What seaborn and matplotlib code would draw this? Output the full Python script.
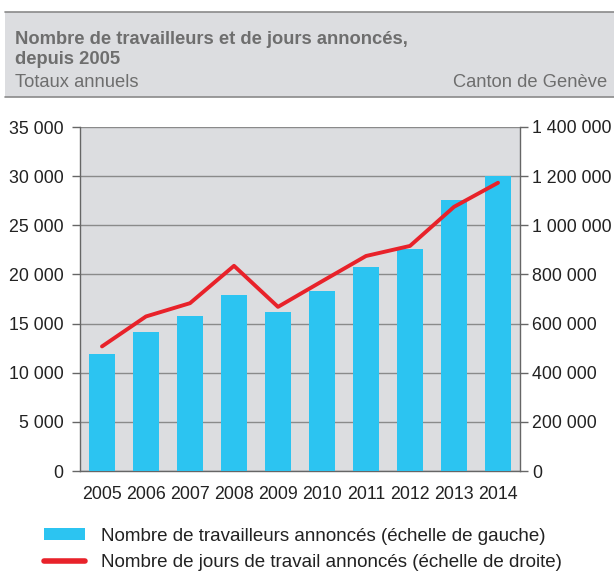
import numpy as np
import pandas as pd
import seaborn as sns
import matplotlib.pyplot as plt
from matplotlib.patches import Patch, Rectangle
from matplotlib.lines import Line2D
from matplotlib.ticker import FuncFormatter

annees = ["2005", "2006", "2007", "2008", "2009", "2010", "2011", "2012", "2013", "2014"]
travailleurs = [11950, 14130, 15760, 17920, 16130, 18330, 20730, 22560, 27530, 30000]
jours = [507000, 629000, 683000, 835000, 668000, 772000, 875000, 916000, 1075000, 1173000]

titre1 = "Nombre de travailleurs et de jours annoncés,"
titre2 = "depuis 2005"
sous_titre = "Totaux annuels"
lieu = "Canton de Genève"
lbl_bar = "Nombre de travailleurs annoncés (échelle de gauche)"
lbl_line = "Nombre de jours de travail annoncés (échelle de droite)"

bleu = "#2cc4f1"
rouge = "#e8222a"
gris = "#dcdde0"
gris_ligne = "#8a8a8a"

sns.set_style("white")
plt.rcParams["font.family"] = ["Liberation Sans", "DejaVu Sans"]

df = pd.DataFrame({"annee": annees, "travailleurs": travailleurs, "jours": jours})

fig = plt.figure(figsize=(6.14, 5.71), dpi=100)
ax = fig.add_axes([80 / 614, 1 - 471 / 571, 440 / 614, 344 / 571])
ax.set_facecolor(gris)

sns.barplot(data=df, x="annee", y="travailleurs", color=bleu, width=0.57,
            saturation=1, linewidth=0, edgecolor="none", ax=ax, zorder=3)
ax.set_ylim(0, 35000)
ax.set_xlim(-0.5, 9.5)
ax.set_yticks(np.arange(0, 35001, 5000))
fmt = FuncFormatter(lambda v, p: f"{int(v):,}".replace(",", " "))
ax.yaxis.set_major_formatter(fmt)
ax.grid(axis="y", color=gris_ligne, linewidth=1.0, zorder=1)
ax.set_axisbelow(True)
ax.set_xlabel("")
ax.set_ylabel("")

ax2 = ax.twinx()
sns.lineplot(x=np.arange(len(annees)), y=jours, color=rouge, linewidth=2.8, ax=ax2)
ax2.set_ylim(0, 1400000)
ax2.set_yticks(np.arange(0, 1400001, 200000))
ax2.yaxis.set_major_formatter(fmt)
ax2.set_xlim(-0.5, 9.5)

for a in (ax, ax2):
    a.spines["top"].set_visible(False)
    for s in ("left", "right", "bottom"):
        a.spines[s].set_color("#666666")
        a.spines[s].set_linewidth(1.0)
ax.spines["right"].set_visible(False)
ax2.spines["left"].set_visible(False)
ax2.spines["bottom"].set_visible(False)

ax.tick_params(axis="y", direction="out", length=6, width=1, color="#666666",
               labelsize=12.8, labelcolor="#222222", pad=6, left=True)
ax.tick_params(axis="x", length=0, labelsize=12.8, labelcolor="#222222", pad=11)
ax2.tick_params(axis="y", direction="out", length=6, width=1, color="#666666",
                labelsize=12.8, labelcolor="#222222", pad=3, right=True)

# title box
fig.patches.append(Rectangle((5 / 614, 1 - 97 / 571), 609 / 614, 85 / 571,
                             transform=fig.transFigure, facecolor=gris,
                             edgecolor="none", zorder=0))
for yy in (12, 97):
    fig.add_artist(Line2D([5 / 614, 1], [1 - yy / 571] * 2, color=gris_ligne,
                          linewidth=1.2, transform=fig.transFigure))
fig.text(15 / 614, 1 - 39 / 571, titre1, fontsize=13.2, fontweight="bold",
         color="#6e6e6e", va="center", ha="left")
fig.text(15 / 614, 1 - 60 / 571, titre2, fontsize=13.2, fontweight="bold",
         color="#6e6e6e", va="center", ha="left")
fig.text(15 / 614, 1 - 83 / 571, sous_titre, fontsize=13.2, color="#6e6e6e",
         va="center", ha="left")
fig.text(607 / 614, 1 - 83 / 571, lieu, fontsize=13.2, color="#6e6e6e",
         va="center", ha="right")

handles = [Patch(facecolor=bleu, edgecolor="none"),
           Line2D([0], [0], color=rouge, linewidth=4)]
fig.legend(handles, [lbl_bar, lbl_line], loc="upper left",
           bbox_to_anchor=(27 / 614, 1 - 511 / 571), frameon=False,
           fontsize=13.5, handlelength=2.2, handleheight=0.6, handletextpad=0.85,
           labelspacing=0.5, labelcolor="#222222")

fig.savefig("out.png", dpi=100)
